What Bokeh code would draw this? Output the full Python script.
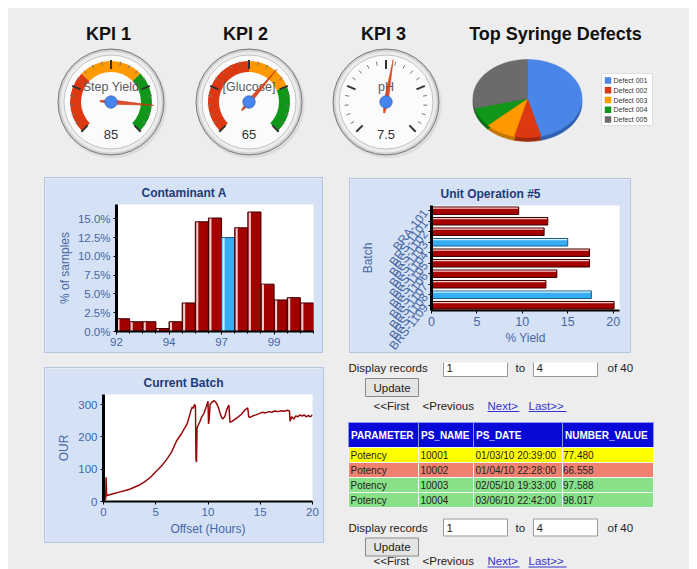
import math
from bokeh.plotting import figure
from bokeh.layouts import column, row
from bokeh.models import Range1d, FactorRange, FixedTicker, PrintfTickFormatter, ColumnDataSource
from bokeh.transform import dodge
from bokeh.embed import file_html
from bokeh.resources import INLINE
from bokeh.core.properties import value

FONT = "Liberation Sans"
PAGE_BG = "#ededed"
PANEL_BG = "#d5e2f5"
PANEL_EDGE = "#b3c5e2"
TICK_COL = "#4766a3"
TITLE_COL = "#1d3a7a"
RED, ORANGE, GREEN = "#dc3912", "#ff9900", "#109618"

# ---------------- data ----------------
kpi_titles = ["KPI 1", "KPI 2", "KPI 3"]
kpi_names = ["Step Yield", "[Glucose]", "pH"]
kpi_values = [85, 65, 7.5]
kpi_value_labels = ["85", "65", "7.5"]
kpi_min = [0, 0, 0]
kpi_max = [100, 100, 14]
kpi_red = [(0, 33), (0, 50), None]
kpi_yellow = [(33, 67), (50, 75), None]
kpi_green = [(67, 100), (75, 100), None]

pie_title = "Top Syringe Defects"
defect_names = ["Defect 001", "Defect 002", "Defect 003", "Defect 004", "Defect 005"]
defect_share = [46, 8, 9, 8, 29]
defect_colors = ["#4a86e8", "#dc3912", "#ff9900", "#109618", "#6b6b6b"]
defect_sides = ["#2f5fb0", "#9e2a0d", "#c47600", "#0b6a12", "#474747"]

hist_values = [1.7, 1.3, 1.3, 0.4, 1.3, 3.8, 14.6, 15.1, 12.5, 13.8, 15.9, 6.3, 4.2, 4.5, 3.8]
hist_highlight = 8
hist_tick_bins = [0, 4, 8, 12]
hist_tick_labels = ["92", "94", "97", "99"]
hist_y_ticks = [0, 2.5, 5, 7.5, 10, 12.5, 15]

batches = ["BRA-101", "BRS-1101", "BRS-1102", "BRS-1103", "BRS-1104",
           "BRS-1105", "BRS-1106", "BRS-1107", "BRS-1108", "BRS-1109"]
batch_yield = [9.6, 12.8, 12.4, 15.0, 17.4, 17.4, 13.8, 12.6, 17.6, 20.1]
batch_highlight = [3, 8]
yield_ticks = [0, 5, 10, 15, 20]

hours = [0.2, 0.25, 0.3, 0.5, 1.0, 1.5, 2.0, 2.5, 3.0, 3.5, 4.0, 4.5, 5.0, 5.5, 6.0, 6.5,
         7.0, 7.5, 8.0, 8.2, 8.4, 8.5, 8.6, 8.7, 8.8, 8.85, 8.9, 8.95, 9.0, 9.2, 9.4, 9.6,
         9.8, 10.0, 10.05, 10.1, 10.2, 10.4, 10.6, 10.8, 11.0, 11.2, 11.4, 11.6, 11.8, 12.0,
         12.1, 12.3, 12.6, 12.9, 13.2, 13.5, 13.8, 13.9, 14.0, 14.3, 14.6, 14.9, 15.2, 15.5,
         15.8, 16.1, 16.4, 16.7, 17.0, 17.3, 17.6, 17.8, 17.85, 17.9, 18.0, 18.2, 18.4, 18.6,
         18.8, 19.0, 19.2, 19.4, 19.6, 19.8, 20.0]
our = [5, 75, 18, 20, 25, 29, 33, 38, 45, 52, 62, 75, 92, 108, 128, 152,
       188, 212, 240, 262, 285, 292, 288, 300, 295, 130, 122, 225, 232, 245, 262, 272,
       290, 310, 240, 250, 300, 308, 312, 305, 290, 268, 255, 262, 285, 298,
       245, 248, 255, 262, 270, 282, 290, 262, 260, 265, 268, 272, 276, 274,
       278, 276, 280, 278, 281, 279, 282, 280, 248, 252, 262, 255, 265, 262,
       268, 264, 268, 262, 266, 262, 268]
our_ticks = [0, 100, 200, 300]
hour_ticks = [0, 5, 10, 15, 20]

form_words = ["Display records", "to", "of 40"]
record_from, record_to = "1", "4"
button_label = "Update"
nav_links = ["<<First", "<Previous", "Next>", "Last>>"]
nav_active = [False, False, True, True]

table_header = ["PARAMETER", "PS_NAME", "PS_DATE", "NUMBER_VALUE"]
t_param = ["Potency", "Potency", "Potency", "Potency"]
t_name = ["10001", "10002", "10003", "10004"]
t_date = ["01/03/10 20:39:00", "01/04/10 22:28:00", "02/05/10 19:33:00", "03/06/10 22:42:00"]
t_value = ["77.480", "66.558", "97.588", "98.017"]
row_colors = ["#ffff00", "#f08070", "#88e088", "#88e088"]

# ---------------- top row: gauges + pie ----------------
top = figure(width=681, height=164, x_range=Range1d(8, 689), y_range=Range1d(-172, -8),
             x_axis_location=None, y_axis_location=None, min_border=0,
             output_backend="svg", toolbar_location=None)
top.grid.visible = False
top.outline_line_color = None
top.background_fill_color = PAGE_BG
top.border_fill_color = PAGE_BG

G_CX = [110.5, 248.5, 385.5]
G_CY = 101.5
T_X = [108, 245, 383]

top.text(x=T_X + [555], y=[-33] * 4, text=kpi_titles + [pie_title], text_font=value(FONT),
         text_font_size="18px", text_font_style="bold", text_color="#111111",
         text_align="center", text_baseline="middle")

for i in range(3):
    cx, cy = G_CX[i], -G_CY
    vmin, vmax = kpi_min[i], kpi_max[i]

    def ang(v, vmin=vmin, vmax=vmax):
        return math.radians(225 - 270 * (v - vmin) / (vmax - vmin))

    top.circle(x=[cx + 1.5], y=[cy - 2], radius=54, fill_color="#cccccc", fill_alpha=0.5, line_color=None)
    top.circle(x=[cx], y=[cy], radius=53, fill_color="#d0d0d0", line_color="#7a7a7a", line_width=1)
    top.circle(x=[cx], y=[cy], radius=50.5, fill_color="#ececec", line_color=None)
    top.circle(x=[cx], y=[cy], radius=47, fill_color="#fbfbfb", line_color="#c4c4c4", line_width=1)
    for band, col in ((kpi_red[i], RED), (kpi_yellow[i], ORANGE), (kpi_green[i], GREEN)):
        if band:
            top.annular_wedge(x=[cx], y=[cy], inner_radius=30, outer_radius=41,
                              start_angle=ang(band[1]), end_angle=ang(band[0]),
                              fill_color=col, line_color=None)
    step = (vmax - vmin) / 4.0
    majors = [vmin + k * step for k in range(5)]
    minors = [vmin + k * step / 5.0 for k in range(21) if k % 5]
    for vals, r0, r1, col, lw in ((minors, 37.5, 41.5, "#777777", 1), (majors, 33, 42, "#333333", 2)):
        top.segment(x0=[cx + r0 * math.cos(ang(v)) for v in vals], y0=[cy + r0 * math.sin(ang(v)) for v in vals],
                    x1=[cx + r1 * math.cos(ang(v)) for v in vals], y1=[cy + r1 * math.sin(ang(v)) for v in vals],
                    line_color=col, line_width=lw)
    top.text(x=[cx], y=[cy + 15], text=[kpi_names[i]], text_font=value(FONT), text_font_size="12.5px",
             text_color="#5a5a5a", text_align="center", text_baseline="middle")
    top.text(x=[cx], y=[cy - 32.5], text=[kpi_value_labels[i]], text_font=value(FONT), text_font_size="13px",
             text_color="#333333", text_align="center", text_baseline="middle")
    a = ang(kpi_values[i])
    ux, uy = math.cos(a), math.sin(a)
    px, py = -uy, ux
    tip, tail, w = 43, 11, 2.2
    top.patch(x=[cx + tip * ux, cx + w * px, cx - tail * ux + 0.6 * px, cx - tail * ux - 0.6 * px, cx - w * px],
              y=[cy + tip * uy, cy + w * py, cy - tail * uy + 0.6 * py, cy - tail * uy - 0.6 * py, cy - w * py],
              fill_color=RED, fill_alpha=0.9, line_color="#c0340f", line_width=0.5)
    top.circle(x=[cx], y=[cy], radius=6.2, fill_color="#4684ee", line_color="#3c68b8", line_width=0.8)

# pie (tilted)
PCX, PCY, PRX, PRY, DEPTH = 527, -98, 54.5, 39, 4
tot = float(sum(defect_share))
slices = []
a0 = 90.0
for v in defect_share:
    a1 = a0 - 360.0 * v / tot
    n = max(4, int(abs(a1 - a0) / 3))
    ts = [math.radians(a0 + (a1 - a0) * k / n) for k in range(n + 1)]
    slices.append(ts)
    a0 = a1
for ts, sc in zip(slices, defect_sides):
    top.patch(x=[PCX] + [PCX + PRX * math.cos(t) for t in ts], y=[PCY - DEPTH] + [PCY - DEPTH + PRY * math.sin(t) for t in ts],
              fill_color=sc, line_color=sc, line_width=0.5)
for ts, c in zip(slices, defect_colors):
    top.patch(x=[PCX] + [PCX + PRX * math.cos(t) for t in ts], y=[PCY] + [PCY + PRY * math.sin(t) for t in ts],
              fill_color=c, line_color=c, line_width=0.5)

top.rect(x=[626.5], y=[-99], width=51, height=52, fill_color="white", line_color="#dddddd")
ly = [-(80 + 9.75 * k) for k in range(len(defect_names))]
top.rect(x=[607.5] * len(ly), y=ly, width=6.5, height=6.5, fill_color=defect_colors, line_color=None)
top.text(x=[613] * len(ly), y=ly, text=defect_names, text_font=value(FONT), text_font_size="7px",
         text_color="#333333", text_baseline="middle")


# ---------------- chart panels ----------------
def style_chart(p, tick_size):
    p.grid.visible = False
    p.background_fill_color = "white"
    p.border_fill_color = PANEL_BG
    p.outline_line_color = None
    p.title.text_color = TITLE_COL
    p.title.text_font = FONT
    p.title.text_font_size = "12px"
    p.title.text_font_style = "bold"
    p.title.align = "left"
    for ax in p.axis:
        ax.axis_line_color = "black"
        ax.axis_line_width = 2
        ax.major_tick_line_color = "black"
        ax.major_tick_out = 3
        ax.major_tick_in = 0
        ax.minor_tick_line_color = None
        ax.major_label_text_color = TICK_COL
        ax.major_label_text_font = FONT
        ax.major_label_text_font_size = tick_size
        ax.major_label_standoff = 3
        ax.axis_label_text_color = TICK_COL
        ax.axis_label_text_font = FONT
        ax.axis_label_text_font_size = "12px"
        ax.axis_label_text_font_style = "normal"


PANEL_STYLE = {"box-shadow": "0 0 0 1px " + PANEL_EDGE}

hist = figure(width=277, height=174, x_range=Range1d(0, 15), y_range=Range1d(0, 16.9),
              min_border_left=71, min_border_right=9, min_border_top=26, min_border_bottom=21,
              title="Contaminant A", output_backend="svg", toolbar_location=None,
              margin=(6, 0, 10, 37), styles=PANEL_STYLE)
style_chart(hist, "11.5px")
hist.title.offset = 25
hx = [k + 0.5 for k in range(len(hist_values))]
hfill = ["#36aef5" if k == hist_highlight else "#a30000" for k in range(len(hist_values))]
hline = ["#1a5a8c" if k == hist_highlight else "#3a0000" for k in range(len(hist_values))]
hhl = ["#d2efff" if k == hist_highlight else "#f4cccc" for k in range(len(hist_values))]
hist.vbar(x=hx, top=hist_values, width=1.0, fill_color=hfill, line_color=hline, line_width=1)
hist.vbar(x=[k + 0.15 for k in range(len(hist_values))], top=[v - 0.06 for v in hist_values], bottom=0.05,
          width=0.16, fill_color=hhl, line_color=None)
hist.xaxis.ticker = FixedTicker(ticks=hist_tick_bins, minor_ticks=list(range(len(hist_values) + 1)))
hist.xaxis.major_label_overrides = {b: lab for b, lab in zip(hist_tick_bins, hist_tick_labels)}
hist.xaxis.minor_tick_line_color = "black"
hist.xaxis.minor_tick_out = 2
hist.xaxis.minor_tick_in = 0
hist.yaxis.ticker = FixedTicker(ticks=hist_y_ticks)
hist.yaxis.formatter = PrintfTickFormatter(format="%.1f%%")
hist.yaxis.axis_label = "% of samples"
hist.yaxis.axis_label_standoff = 3
hist.yaxis.axis_line_width = 3

unit = figure(width=280, height=173, y_range=FactorRange(factors=batches[::-1]), x_range=Range1d(0, 20.7),
              min_border_left=81, min_border_right=11, min_border_top=25, min_border_bottom=42,
              title="Unit Operation #5", output_backend="svg", toolbar_location=None,
              margin=(7, 0, 10, 28), styles=PANEL_STYLE)
style_chart(unit, "12.5px")
unit.title.offset = 9
usrc = ColumnDataSource(dict(
    batch=batches, yld=batch_yield, yin=[v - 0.08 for v in batch_yield],
    fill=["#36aef5" if k in batch_highlight else "#a30000" for k in range(len(batches))],
    line=["#1a5a8c" if k in batch_highlight else "#3a0000" for k in range(len(batches))],
    hl=["#d2efff" if k in batch_highlight else "#f4cccc" for k in range(len(batches))]))
unit.hbar(y="batch", right="yld", left=0, height=0.72, fill_color="fill", line_color="line", line_width=1, source=usrc)
unit.hbar(y=dodge("batch", 0.25, range=unit.y_range), right="yin", left=0.06, height=0.13,
          fill_color="hl", line_color=None, source=usrc)
unit.xaxis.ticker = FixedTicker(ticks=yield_ticks)
unit.xaxis.axis_label = "% Yield"
unit.xaxis.axis_label_standoff = 2
unit.yaxis.axis_label = "Batch"
unit.yaxis.major_label_orientation = math.radians(52)
unit.yaxis.major_label_text_font_size = "12px"
unit.yaxis.axis_label_standoff = 3
unit.yaxis.axis_line_width = 3

cur = figure(width=278, height=174, x_range=Range1d(0, 20), y_range=Range1d(0, 331),
             min_border_left=58, min_border_right=11, min_border_top=26, min_border_bottom=41,
             title="Current Batch", output_backend="svg", toolbar_location=None,
             margin=(6, 0, 27, 37), styles=PANEL_STYLE)
style_chart(cur, "11.5px")
cur.title.offset = 40
cur.line(hours, our, line_color="#960a0a", line_width=1.5)
cur.xaxis.ticker = FixedTicker(ticks=hour_ticks)
cur.yaxis.ticker = FixedTicker(ticks=our_ticks)
cur.xaxis.axis_label = "Offset (Hours)"
cur.yaxis.axis_label = "OUR"
cur.xaxis.axis_label_standoff = 3
cur.yaxis.axis_label_standoff = 4
cur.yaxis.axis_line_width = 3

# ---------------- form + table ----------------
tbl = figure(width=349, height=207, x_range=Range1d(340, 689), y_range=Range1d(-569, -362),
             x_axis_location=None, y_axis_location=None, min_border=0,
             output_backend="svg", toolbar_location=None, margin=(0, 0, 0, 17))
tbl.grid.visible = False
tbl.outline_line_color = None
tbl.background_fill_color = PAGE_BG
tbl.border_fill_color = PAGE_BG


def txt(x, y, s, size="11.5px", color="#222222", style="normal", align="left"):
    tbl.text(x=x, y=[-v for v in y], text=s, text_font=value(FONT), text_font_size=size,
             text_color=color, text_font_style=style, text_align=align, text_baseline="middle")


def draw_form(b, nav_gap):
    txt([348, 515, 607], [b, b, b], form_words)
    tbl.rect(x=[475, 565], y=[-b, -b], width=64, height=17, fill_color="white", line_color="#9a9a9a")
    txt([446, 536], [b, b], [record_from, record_to])
    tbl.rect(x=[391.5], y=[-(b + 19.5)], width=53, height=18, fill_color="#e4e4e4", line_color="#8a8a8a")
    txt([391.5], [b + 19.5], [button_label], align="center")
    nx = [373, 422, 487, 528]
    ny = b + nav_gap
    for x, lab, act in zip(nx, nav_links, nav_active):
        col = "#3333cc" if act else "#222222"
        txt([x], [ny], [lab], color=col)
    tbl.segment(x0=[487, 528], y0=[-(ny + 6)] * 2, x1=[519, 566], y1=[-(ny + 6)] * 2,
                line_color="#3333cc", line_width=1)


draw_form(367.5, 37.5)
draw_form(527.0, 33.5)

col_edges = [348, 418, 473, 562, 653]
hdr_top, hdr_bot, row_h = 422, 447, 15
cxs = [(col_edges[j] + col_edges[j + 1]) / 2 for j in range(4)]
cws = [col_edges[j + 1] - col_edges[j] for j in range(4)]
tbl.rect(x=cxs, y=[-(hdr_top + hdr_bot) / 2] * 4, width=cws, height=hdr_bot - hdr_top,
         fill_color="#0a0ad8", line_color="#8c96f0", line_width=1)
txt([e + 2.5 for e in col_edges[:4]], [(hdr_top + hdr_bot) / 2] * 4, table_header,
    size="10px", color="white", style="bold")
cols = [t_param, t_name, t_date, t_value]
for r in range(len(t_param)):
    yc = hdr_bot + row_h * r + row_h / 2
    tbl.rect(x=cxs, y=[-yc] * 4, width=cws, height=row_h, fill_color=row_colors[r],
             line_color="#f4f4f4", line_width=1)
    txt([col_edges[0] + 2, col_edges[1] + 2, col_edges[2] + 2, col_edges[3] + 0.5], [yc] * 4,
        [c[r] for c in cols], size="10px", color="#222222")

layout = column(column(top),
                row(column(hist), column(unit)),
                row(column(cur), column(tbl)),
                styles={"background-color": PAGE_BG}, margin=(8, 0, 0, 8))

open("out.html", "w").write(file_html(layout, INLINE))
